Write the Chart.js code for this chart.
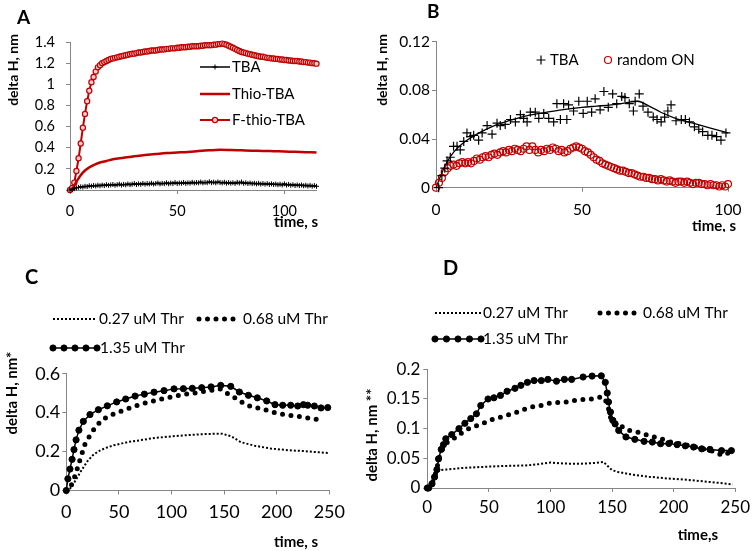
<!DOCTYPE html>
<html>
<head>
<meta charset="utf-8">
<title>delta H vs time</title>
<script src="https://cdn.jsdelivr.net/npm/chart.js@4.4.1/dist/chart.umd.min.js"></script>
<style>
  body { margin: 0; background: #fff; }
  #wrap { position: relative; width: 755px; height: 551px; overflow: hidden; }
  canvas { position: absolute; }
</style>
</head>
<body>
<div id="wrap">
  <canvas id="chartA" width="370" height="232" style="left:0;top:0"></canvas>
  <canvas id="chartB" width="385" height="232" style="left:370px;top:0"></canvas>
  <canvas id="chartC" width="360" height="319" style="left:0;top:232px"></canvas>
  <canvas id="chartD" width="400" height="319" style="left:355px;top:232px"></canvas>
</div>
<script>
// ---- panel A: values every 1 s, 0..115 s
const tbaA = [0, 0.005, 0.012, 0.02, 0.025, 0.03, 0.028, 0.035, 0.032, 0.04,
  0.036, 0.042, 0.038, 0.045, 0.04, 0.047, 0.042, 0.05, 0.044, 0.048,
  0.052, 0.045, 0.05, 0.055, 0.047, 0.053, 0.049, 0.057, 0.05, 0.055,
  0.06, 0.052, 0.058, 0.054, 0.062, 0.055, 0.06, 0.057, 0.064, 0.056,
  0.061, 0.066, 0.058, 0.063, 0.06, 0.068, 0.059, 0.065, 0.062, 0.07,
  0.061, 0.066, 0.064, 0.071, 0.063, 0.068, 0.065, 0.073, 0.066, 0.07,
  0.068, 0.075, 0.067, 0.072, 0.069, 0.078, 0.07, 0.074, 0.068, 0.076,
  0.071, 0.067, 0.073, 0.065, 0.07, 0.064, 0.069, 0.062, 0.072, 0.066,
  0.075, 0.063, 0.068, 0.061, 0.066, 0.06, 0.064, 0.058, 0.063, 0.056,
  0.061, 0.055, 0.06, 0.053, 0.058, 0.052, 0.056, 0.05, 0.055, 0.048,
  0.058, 0.047, 0.053, 0.045, 0.05, 0.043, 0.048, 0.042, 0.047, 0.04,
  0.045, 0.038, 0.044, 0.036, 0.042, 0.035];
const fThioA = [0.00, 0.02, 0.07, 0.18, 0.30, 0.44, 0.59, 0.72, 0.84, 0.94,
  1.02, 1.07, 1.12, 1.16, 1.18, 1.20, 1.21, 1.22, 1.23, 1.24,
  1.245, 1.25, 1.255, 1.26, 1.265, 1.27, 1.275, 1.28, 1.285, 1.29,
  1.29, 1.295, 1.30, 1.30, 1.305, 1.31, 1.31, 1.315, 1.32, 1.32,
  1.32, 1.325, 1.33, 1.33, 1.33, 1.335, 1.335, 1.34, 1.34, 1.34,
  1.345, 1.345, 1.35, 1.35, 1.35, 1.355, 1.355, 1.36, 1.36, 1.36,
  1.36, 1.365, 1.365, 1.37, 1.37, 1.37, 1.37, 1.375, 1.375, 1.38,
  1.38, 1.385, 1.38, 1.375, 1.365, 1.355, 1.345, 1.335, 1.325, 1.315,
  1.305, 1.30, 1.295, 1.29, 1.285, 1.28, 1.275, 1.27, 1.265, 1.26,
  1.26, 1.255, 1.25, 1.25, 1.245, 1.245, 1.24, 1.24, 1.235, 1.235,
  1.23, 1.23, 1.225, 1.225, 1.22, 1.22, 1.22, 1.215, 1.215, 1.21,
  1.21, 1.205, 1.205, 1.20, 1.20, 1.195];
const timeA = fThioA.map((_, i) => i);
const thioT = [0, 1, 2, 3, 4, 5, 6, 7, 8, 10, 12, 14, 17, 20, 25, 30, 35, 40, 45, 50, 55, 60, 65, 70, 75, 80, 85, 90, 95, 100, 105, 110, 115];
const thioA = [0, 0.01, 0.04, 0.08, 0.11, 0.14, 0.165, 0.185, 0.20, 0.225, 0.245, 0.26, 0.275, 0.29, 0.305, 0.32, 0.33, 0.34, 0.35, 0.355, 0.36, 0.368, 0.375, 0.38, 0.378, 0.375, 0.372, 0.37, 0.367, 0.364, 0.361, 0.358, 0.355];

// ---- panel B
const tbaBT = [0.9, 2.0, 3.0, 3.8, 4.9, 6.0, 7.2, 8.3, 9.5, 10.6, 11.8, 12.9, 14.6, 15.8, 17.5, 19.2, 20.9, 22.0, 23.7, 25.5,
  27.2, 28.9, 30.0, 31.2, 32.3, 34.0, 35.2, 36.9, 38.6, 40.3, 41.4, 42.6, 43.7, 44.8, 45.4, 47.1, 48.9, 50.4, 51.8, 53.3,
  54.5, 56.2, 57.5, 59.0, 60.5, 61.9, 63.6, 64.7, 66.2, 67.6, 68.2, 69.6, 70.9, 72.6, 74.4, 75.7, 77.1, 78.3, 79.4, 80.5,
  82.2, 84.0, 85.4, 86.8, 88.5, 90.0, 91.3, 93.1, 94.5, 96.1, 97.6, 99.3];
const tbaB = [0.000, 0.010, 0.016, 0.022, 0.025, 0.034, 0.034, 0.031, 0.038, 0.045, 0.042, 0.043, 0.039, 0.045, 0.051, 0.044, 0.053, 0.051, 0.052, 0.056,
  0.054, 0.060, 0.057, 0.054, 0.062, 0.062, 0.057, 0.061, 0.057, 0.054, 0.069, 0.056, 0.069, 0.056, 0.068, 0.063, 0.071, 0.061, 0.071, 0.062,
  0.073, 0.064, 0.079, 0.066, 0.077, 0.069, 0.075, 0.074, 0.069, 0.063, 0.071, 0.077, 0.067, 0.062, 0.058, 0.056, 0.054, 0.058, 0.063, 0.068,
  0.055, 0.056, 0.056, 0.054, 0.050, 0.048, 0.046, 0.043, 0.043, 0.042, 0.039, 0.045];
const fitBT = [0, 2, 4, 6, 8, 10, 14, 20, 25, 31, 38, 43, 50, 55, 60, 66, 69, 73, 77, 82, 88, 94, 100];
const fitB = [0, 0.012, 0.022, 0.029, 0.034, 0.038, 0.044, 0.051, 0.055, 0.059, 0.062, 0.064, 0.066, 0.067, 0.068, 0.070, 0.071, 0.067, 0.062, 0.057, 0.053, 0.049, 0.045];
// random ON, every 1 s, 0..100 s
const randomB = [0.000, 0.004, 0.008, 0.013, 0.016, 0.018, 0.019, 0.018, 0.020, 0.021,
  0.020, 0.021, 0.020, 0.022, 0.024, 0.023, 0.025, 0.026, 0.025, 0.027,
  0.028, 0.027, 0.029, 0.030, 0.029, 0.031, 0.030, 0.032, 0.031, 0.030,
  0.032, 0.034, 0.031, 0.034, 0.031, 0.029, 0.031, 0.030, 0.032, 0.031,
  0.033, 0.032, 0.030, 0.031, 0.029, 0.030, 0.032, 0.033, 0.034, 0.033,
  0.032, 0.030, 0.029, 0.027, 0.025, 0.023, 0.022, 0.020, 0.019, 0.018,
  0.017, 0.016, 0.015, 0.014, 0.014, 0.013, 0.012, 0.012, 0.011, 0.010,
  0.009, 0.009, 0.008, 0.008, 0.007, 0.007, 0.006, 0.007, 0.006, 0.005,
  0.006, 0.005, 0.004, 0.005, 0.005, 0.004, 0.005, 0.004, 0.003, 0.004,
  0.004, 0.003, 0.003, 0.002, 0.003, 0.002, 0.002, 0.001, 0.002, 0.001, 0.003];
const timeB = randomB.map((_, i) => i);

// ---- panel C
const c027T = [0, 3, 8, 14, 20, 25, 30, 37, 45, 53, 60, 70, 84, 100, 116, 132, 148, 157, 166, 179, 195, 211, 227, 243, 249];
const c027 = [0, 0.005, 0.045, 0.10, 0.15, 0.18, 0.20, 0.218, 0.232, 0.242, 0.25, 0.258, 0.27, 0.278, 0.285, 0.29, 0.292, 0.278, 0.248, 0.23, 0.215, 0.207, 0.202, 0.195, 0.193];
const c068T = [0, 3, 5, 7.3, 9.5, 11.7, 14.3, 17.4, 22.2, 27.9, 34.2, 41.2, 49.1, 57, 65, 72.9, 80.8, 88.7, 96.6, 104.6,
  112.5, 120.4, 129, 137, 146, 151.5, 158.8, 167.7, 176.2, 185.1, 193.6, 202.2, 211.1, 219, 227.5, 238];
const c068 = [0, 0.005, 0.03, 0.06, 0.095, 0.135, 0.179, 0.234, 0.280, 0.328, 0.363, 0.385, 0.402, 0.417, 0.433, 0.446, 0.457, 0.467, 0.477, 0.486,
  0.494, 0.499, 0.508, 0.514, 0.522, 0.503, 0.481, 0.451, 0.429, 0.421, 0.407, 0.395, 0.387, 0.382, 0.374, 0.366];
const c135T = [0, 1.5, 3.5, 5.5, 7.3, 9.3, 12, 16.2, 22.5, 30.5, 39, 47.9, 56.5, 65.4, 74.2, 83.4, 92.9, 102.4, 111.3, 119.8,
  128.7, 137.6, 146.8, 156.3, 164.5, 173.1, 181.6, 190.5, 198.4, 205.7, 213.3, 220, 225.4, 229.5, 235.8, 242.1, 248.5];
const c135 = [0, 0.06, 0.11, 0.16, 0.21, 0.26, 0.31, 0.355, 0.39, 0.415, 0.435, 0.455, 0.47, 0.485, 0.495, 0.505, 0.513, 0.522, 0.523, 0.525,
  0.528, 0.532, 0.540, 0.535, 0.506, 0.489, 0.476, 0.460, 0.441, 0.438, 0.438, 0.434, 0.441, 0.438, 0.434, 0.424, 0.426];

// ---- panel D
const d027T = [0, 2, 4, 6, 8, 10, 15, 20, 30, 40, 50, 60, 70, 80, 90, 100, 105, 115, 125, 135, 143, 146, 150, 155, 165, 180, 195, 210, 225, 240, 248];
const d027 = [0, 0.004, 0.012, 0.022, 0.028, 0.03, 0.031, 0.032, 0.034, 0.035, 0.036, 0.037, 0.0375, 0.038, 0.04, 0.043, 0.042, 0.041, 0.041, 0.042,
  0.044, 0.038, 0.03, 0.027, 0.023, 0.019, 0.016, 0.014, 0.011, 0.008, 0.006];
const d068T = [0, 3.8, 5.9, 8, 9.5, 11.5, 14.5, 16.6, 20.4, 24.6, 29.2, 34.5, 39.1, 43.9, 49.3, 54.1, 58.6, 64, 68.5, 73.3,
  78.1, 82.7, 87.2, 92.1, 96.9, 101.4, 106, 110.8, 114.8, 122.5, 127.3, 132.7, 137.2, 142.6, 145.5, 147.9, 149.3, 154.6, 159.4, 164,
  168.5, 172.8, 177.4, 181.9, 186.7, 191.5, 196.1, 200.1, 205.5, 210.8, 215.6, 221, 226.3, 231.7, 236.2, 240.2, 244.2, 246.9];
const d068 = [0, 0.007, 0.018, 0.035, 0.05, 0.062, 0.0746, 0.077, 0.082, 0.0875, 0.095, 0.101, 0.104, 0.108, 0.112, 0.117, 0.119, 0.122, 0.125, 0.128,
  0.132, 0.135, 0.138, 0.139, 0.142, 0.144, 0.144, 0.145, 0.145, 0.149, 0.149, 0.150, 0.1515, 0.154, 0.145, 0.128, 0.114, 0.103, 0.103, 0.097,
  0.095, 0.093, 0.090, 0.0875, 0.084, 0.082, 0.0786, 0.076, 0.0746, 0.072, 0.0707, 0.067, 0.065, 0.062, 0.058, 0.055, 0.059, 0.052];
const d135T = [0, 1.1, 3.8, 5.9, 7.8, 9.1, 11.3, 13.1, 15, 19.8, 25.7, 30.5, 35.3, 39.9, 43.4, 49.3, 54.1, 59.4, 64.8, 71.2,
  76, 81.3, 86.7, 92.6, 97.9, 104.9, 111.3, 117.2, 126.5, 133.8, 141.3, 144.5, 146.1, 147.1, 148.7, 150.6, 152.5, 155.4, 161.3, 168.5,
  176, 182.7, 189.4, 196.1, 202.8, 209.5, 216.2, 222.8, 229.5, 238.9, 246.9];
const d135 = [0, 0, 0.007, 0.0185, 0.031, 0.049, 0.065, 0.073, 0.083, 0.090, 0.100, 0.109, 0.117, 0.125, 0.139, 0.150, 0.152, 0.156, 0.163, 0.168,
  0.173, 0.178, 0.181, 0.181, 0.183, 0.180, 0.183, 0.183, 0.187, 0.1886, 0.189, 0.178, 0.160, 0.145, 0.128, 0.114, 0.108, 0.097, 0.086, 0.082,
  0.0786, 0.0774, 0.0746, 0.075, 0.073, 0.071, 0.069, 0.066, 0.065, 0.063, 0.063];

// ---- tick values
const xTicksA = [0, 50, 100];
const yTicksA = [0, 0.2, 0.4, 0.6, 0.8, 1, 1.2, 1.4];
const xTicksB = [0, 50, 100];
const yTicksB = [0, 0.04, 0.08, 0.12];
const xTicksCD = [0, 50, 100, 150, 200, 250];
const yTicksC = [0, 0.2, 0.4, 0.6];
const yTicksD = [0, 0.05, 0.1, 0.15, 0.2];

const RED = '#C00000';
const AXIS = '#868686';
Chart.defaults.font.family = "Lato, 'Open Sans', sans-serif";
Chart.defaults.color = '#000';

function pts(xs, ys) {
  return ys.map((y, i) => ({ x: xs[i], y: y }));
}

function axes(c) {
  const grid = { display: true, drawOnChartArea: false, drawTicks: true, tickLength: 4, color: AXIS };
  return {
    x: {
      type: 'linear', min: c.xMin, max: c.xMax, grid: grid, border: { color: AXIS },
      afterBuildTicks: s => { s.ticks = c.xTicks.map(v => ({ value: v })); },
      afterFit: s => { s.height = c.xHeight; },
      ticks: { font: { size: c.font }, padding: c.xPad, maxRotation: 0, autoSkip: false, callback: v => String(v) }
    },
    y: {
      type: 'linear', min: c.yMin, max: c.yMax, grid: grid, border: { color: AXIS },
      afterBuildTicks: s => { s.ticks = c.yTicks.map(v => ({ value: v })); },
      afterFit: s => { s.width = c.yWidth; },
      ticks: { font: { size: c.font }, padding: c.yPad, callback: v => String(v) }
    }
  };
}

function drawLegendItem(chart, it, font) {
  const ctx = chart.ctx;
  const ds = chart.data.datasets[it.ds];
  ctx.save();
  if (ds.showLine !== false && it.w > 0) {
    ctx.strokeStyle = ds.borderColor;
    ctx.lineWidth = ds.borderWidth;
    ctx.lineCap = ds.borderCapStyle || 'butt';
    ctx.setLineDash(ds.borderDash || []);
    ctx.beginPath();
    ctx.moveTo(it.x, it.y);
    ctx.lineTo(it.x + it.w, it.y);
    ctx.stroke();
  }
  ctx.setLineDash([]);
  const n = it.marks || 0;
  for (let i = 0; i < n; i++) {
    const px = n === 1 ? it.x + it.w / 2 : it.x + it.w * i / (n - 1);
    ctx.fillStyle = ds.pointBackgroundColor;
    ctx.strokeStyle = ds.pointBorderColor;
    ctx.lineWidth = ds.pointBorderWidth;
    Chart.helpers.drawPoint(ctx, { pointStyle: ds.pointStyle, radius: ds.pointRadius, borderWidth: ds.pointBorderWidth, rotation: 0 }, px, it.y);
  }
  ctx.font = font;
  ctx.fillStyle = '#000';
  ctx.textBaseline = 'middle';
  ctx.textAlign = 'left';
  ctx.fillText(ds.label, it.x + it.w + it.gap, it.y);
  ctx.restore();
}

const panelText = {
  id: 'panelText',
  afterDraw(chart, args, opts) {
    const ctx = chart.ctx;
    (opts.legend || []).forEach(it => drawLegendItem(chart, it, opts.legendFont));
    (opts.texts || []).forEach(t => {
      ctx.save();
      ctx.font = t.font;
      ctx.fillStyle = '#000';
      ctx.textBaseline = 'middle';
      ctx.textAlign = t.align || 'left';
      ctx.translate(t.x, t.y);
      if (t.rotate) ctx.rotate(-Math.PI / 2);
      ctx.fillText(t.text, 0, 0);
      ctx.restore();
    });
  }
};

function makeChart(id, datasets, scales, padding, textOpts) {
  return new Chart(document.getElementById(id), {
    type: 'scatter',
    data: { datasets: datasets },
    options: {
      responsive: false, animation: false, devicePixelRatio: 1, events: [],
      layout: { padding: padding },
      scales: scales,
      plugins: { legend: { display: false }, tooltip: { enabled: false }, panelText: textOpts }
    },
    plugins: [panelText]
  });
}

// ---- A
makeChart('chartA', [
  { label: 'TBA', data: pts(timeA, tbaA), showLine: true, borderColor: '#000', borderWidth: 1.5,
    pointStyle: 'cross', pointRadius: 2.5, pointBorderColor: '#000', pointBackgroundColor: '#000', pointBorderWidth: 1, clip: 8 },
  { label: 'Thio-TBA', data: pts(thioT, thioA), showLine: true, borderColor: RED, borderWidth: 2.5,
    cubicInterpolationMode: 'monotone', pointRadius: 0, clip: 8 },
  { label: 'F-thio-TBA', data: pts(timeA, fThioA), showLine: true, borderColor: RED, borderWidth: 2,
    pointStyle: 'circle', pointRadius: 2.6, pointBorderColor: RED, pointBackgroundColor: '#f6cccc', pointBorderWidth: 1.2, clip: 8 }
], axes({ xMin: 0, xMax: 115, xTicks: xTicksA, yMin: 0, yMax: 1.4, yTicks: yTicksA, font: 14.5, yWidth: 70, xHeight: 30, yPad: 11, xPad: 9 }),
{ left: 0, top: 42, right: 53.5, bottom: 12 },
{ legendFont: '15px Lato', legend: [
    { ds: 0, x: 200, y: 67, w: 30, marks: 1, gap: 2 },
    { ds: 1, x: 200, y: 94, w: 30, marks: 0, gap: 2 },
    { ds: 2, x: 200, y: 120, w: 30, marks: 1, gap: 2 }],
  texts: [
    { text: 'A', x: 17, y: 18, font: 'bold 19px Lato' },
    { text: 'delta H, nm', x: 13, y: 70, font: 'bold 14px Lato', align: 'center', rotate: true },
    { text: 'time, s', x: 318, y: 222, font: 'bold 15px Lato', align: 'right' }] });

// ---- B
makeChart('chartB', [
  { label: 'TBA', data: pts(tbaBT, tbaB), showLine: false, pointStyle: 'cross', pointRadius: 4.5,
    pointBorderColor: '#000', pointBackgroundColor: '#000', pointBorderWidth: 1.2, clip: 8 },
  { label: 'random ON', data: pts(timeB, randomB), showLine: false, pointStyle: 'circle', pointRadius: 3.5,
    pointBorderColor: RED, pointBackgroundColor: 'rgba(0,0,0,0)', pointBorderWidth: 1.2, clip: 8 },
  { label: 'fit', data: pts(fitBT, fitB), showLine: true, borderColor: '#000', borderWidth: 1.3,
    cubicInterpolationMode: 'monotone', pointRadius: 0, clip: 8 }
], axes({ xMin: 0, xMax: 100, xTicks: xTicksB, yMin: 0, yMax: 0.12, yTicks: yTicksB, font: 15.5, yWidth: 66, xHeight: 30, yPad: 2, xPad: 9 }),
{ left: 0, top: 41.6, right: 27, bottom: 14.3 },
{ legendFont: '15px Lato', legend: [
    { ds: 0, x: 171, y: 60, w: 0, marks: 1, gap: 9 },
    { ds: 1, x: 238, y: 60, w: 0, marks: 1, gap: 9 }],
  texts: [
    { text: 'B', x: 57, y: 12, font: 'bold 19px Lato' },
    { text: 'delta H, nm', x: 12, y: 70, font: 'bold 14px Lato', align: 'center', rotate: true },
    { text: 'time, s', x: 366, y: 226, font: 'bold 15px Lato', align: 'right' }] });

// ---- C
makeChart('chartC', [
  { label: '0.27 uM Thr', data: pts(c027T, c027), showLine: true, borderColor: '#000', borderWidth: 2,
    borderDash: [2, 2], pointRadius: 0, clip: 8 },
  { label: '0.68 uM Thr', data: pts(c068T, c068), showLine: true, borderColor: '#000', borderWidth: 5,
    borderDash: [0, 8.5], borderCapStyle: 'round', pointRadius: 0, clip: 8 },
  { label: '1.35 uM Thr', data: pts(c135T, c135), showLine: true, borderColor: '#000', borderWidth: 1.5,
    pointStyle: 'circle', pointRadius: 3.1, pointBorderColor: '#000', pointBackgroundColor: '#000', pointBorderWidth: 1, clip: 8 }
], axes({ xMin: 0, xMax: 250, xTicks: xTicksCD, yMin: 0, yMax: 0.6, yTicks: yTicksC, font: 18, yWidth: 66.3, xHeight: 35, yPad: 2, xPad: 7 }),
{ left: 0, top: 141.7, right: 30.7, bottom: 25.5 },
{ legendFont: '15.5px Lato', legend: [
    { ds: 0, x: 53, y: 87, w: 44, marks: 0, gap: 2 },
    { ds: 1, x: 199, y: 87, w: 38, marks: 0, gap: 6 },
    { ds: 2, x: 53, y: 116, w: 44, marks: 5, gap: 3 }],
  texts: [
    { text: 'C', x: 25, y: 46, font: 'bold 20px Lato' },
    { text: 'delta H, nm*', x: 12, y: 161, font: 'bold 15px Lato', align: 'center', rotate: true },
    { text: 'time, s', x: 318, y: 310, font: 'bold 15px Lato', align: 'right' }] });

// ---- D
makeChart('chartD', [
  { label: '0.27 uM Thr', data: pts(d027T, d027), showLine: true, borderColor: '#000', borderWidth: 2,
    borderDash: [2, 2], pointRadius: 0, clip: 8 },
  { label: '0.68 uM Thr', data: pts(d068T, d068), showLine: true, borderColor: '#000', borderWidth: 5,
    borderDash: [0, 8.5], borderCapStyle: 'round', pointRadius: 0, clip: 8 },
  { label: '1.35 uM Thr', data: pts(d135T, d135), showLine: true, borderColor: '#000', borderWidth: 1.5,
    pointStyle: 'circle', pointRadius: 3.1, pointBorderColor: '#000', pointBackgroundColor: '#000', pointBorderWidth: 1, clip: 8 }
], axes({ xMin: 0, xMax: 250, xTicks: xTicksCD, yMin: 0, yMax: 0.2, yTicks: yTicksD, font: 17, yWidth: 72.3, xHeight: 35, yPad: 3, xPad: 5 }),
{ left: 0, top: 137.3, right: 16, bottom: 28 },
{ legendFont: '15.5px Lato', legend: [
    { ds: 0, x: 80, y: 81, w: 46, marks: 0, gap: 2 },
    { ds: 1, x: 245, y: 81, w: 38, marks: 0, gap: 5 },
    { ds: 2, x: 80, y: 107, w: 46, marks: 5, gap: 2 }],
  texts: [
    { text: 'D', x: 88, y: 37, font: 'bold 20px Lato' },
    { text: 'delta H, nm **', x: 17, y: 203, font: 'bold 15px Lato', align: 'center', rotate: true },
    { text: 'time,s', x: 363, y: 303, font: 'bold 15px Lato', align: 'right' }] });
</script>
</body>
</html>
